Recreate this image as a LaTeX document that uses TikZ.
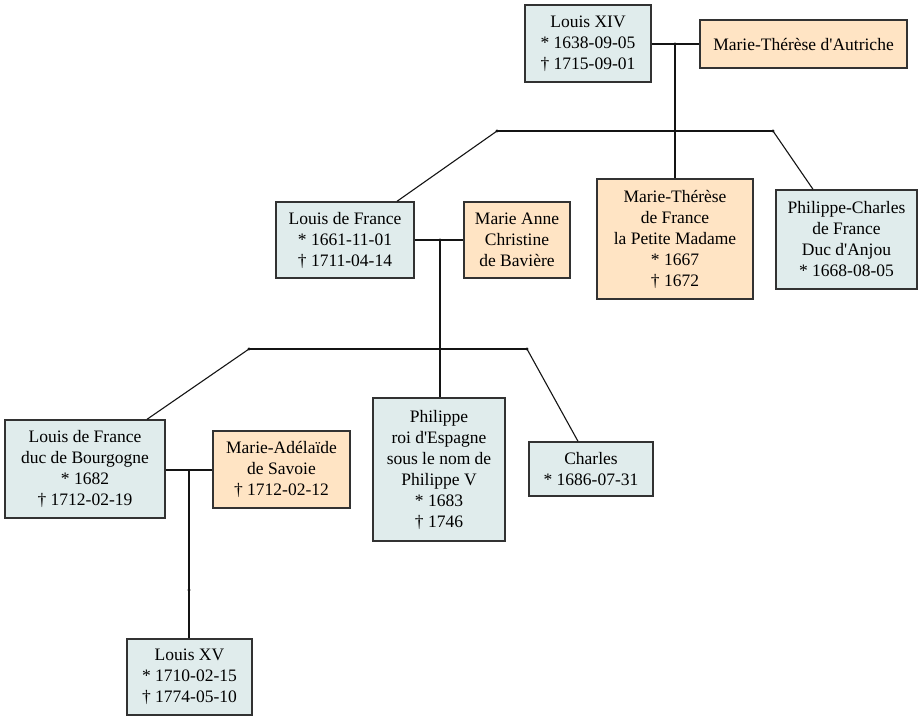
\documentclass[tikz,border=0pt]{standalone}
\usepackage{fontspec}
\setmainfont{Liberation Serif}
\definecolor{maleFill}{RGB}{224,236,236}
\definecolor{femaleFill}{RGB}{255,228,196}
\definecolor{boxLine}{RGB}{50,50,50}
\definecolor{linkCol}{RGB}{20,20,20}
\newcommand{\apos}{\textquotesingle}
\begin{document}
\begin{tikzpicture}[x=1pt,y=-1pt,
  person/.style={draw=boxLine, line width=1.4pt, align=center, inner sep=0pt,
                 font=\fontsize{17.5}{21}\selectfont},
  male/.style={person, fill=maleFill},
  female/.style={person, fill=femaleFill},
  link/.style={draw=linkCol, line width=1.1pt},
  junction/.style={circle, fill=linkCol, inner sep=0pt, minimum size=3.2pt}]

\fill[white] (0,0) rectangle (924,721);
\useasboundingbox (0,0) rectangle (924,721);

% generation 1
\node[male, minimum width=126pt, minimum height=77pt] (louis14) at (588,43.5)
  {Louis XIV\\* 1638-09-05\\† 1715-09-01};
\node[female, minimum width=207pt, minimum height=48pt] (mtAutriche) at (803.5,44)
  {Marie-Thérèse d\apos Autriche};

% generation 2
\node[male, minimum width=138pt, minimum height=76pt] (louisFr) at (345,240)
  {Louis de France\\* 1661-11-01\\† 1711-04-14};
\node[female, minimum width=106pt, minimum height=76pt] (marieAnne) at (517,240)
  {Marie Anne\\Christine\\de Bavière};
\node[female, minimum width=156pt, minimum height=120pt] (mtFrance) at (675,239)
  {Marie-Thérèse\\de France\\la Petite Madame\\* 1667\\† 1672};
\node[male, minimum width=141pt, minimum height=99pt] (philCharles) at (846.5,239.5)
  {Philippe-Charles\\de France\\Duc d\apos Anjou\\* 1668-08-05};

% generation 3
\node[male, minimum width=160pt, minimum height=98pt] (bourgogne) at (85,469)
  {Louis de France\\duc de Bourgogne\\* 1682\\† 1712-02-19};
\node[female, minimum width=137pt, minimum height=77pt] (mAdelaide) at (281.5,469.5)
  {Marie-Adélaïde\\de Savoie\\† 1712-02-12};
\node[male, minimum width=132pt, minimum height=143pt] (philippe) at (439,469.5)
  {Philippe\\roi d\apos Espagne\\sous le nom de\\Philippe V\\* 1683\\† 1746};
\node[male, minimum width=124pt, minimum height=54pt] (charles) at (591,469)
  {Charles\\* 1686-07-31};

% generation 4
\node[male, minimum width=125pt, minimum height=76pt] (louis15) at (189.5,677)
  {Louis XV\\* 1710-02-15\\† 1774-05-10};

% junction points
\coordinate (m1) at (675,44);
\coordinate (b1L) at (497,131);
\coordinate (b1M) at (675,131);
\coordinate (b1R) at (773,131);
\coordinate (m2) at (440,240);
\coordinate (b2L) at (249,349);
\coordinate (b2M) at (440,349);
\coordinate (b2R) at (527,349);
\coordinate (m3) at (189,470);
\coordinate (d3) at (189,590);

% Louis XIV family
\draw[link] (louis14.east |- m1) -- (mtAutriche.west |- m1);
\draw[link] (m1) -- (b1M) -- (mtFrance.north);
\draw[link] (b1L) -- (b1R);
\draw[link] (b1L) -- ([xshift=52pt]louisFr.north);
\draw[link] (b1R) -- ([xshift=-33.5pt]philCharles.north);

% Louis de France family
\draw[link] (louisFr.east |- m2) -- (marieAnne.west |- m2);
\draw[link] (m2) -- (b2M) -- (b2M |- philippe.north);
\draw[link] (b2L) -- (b2R);
\draw[link] (b2L) -- ([xshift=62pt]bourgogne.north);
\draw[link] (b2R) -- ([xshift=-13pt]charles.north);

% duc de Bourgogne family
\draw[link] (bourgogne.east |- m3) -- (mAdelaide.west |- m3);
\draw[link] (m3) -- (d3) -- (d3 |- louis15.north);

% junction dots
\foreach \p in {m1,b1L,b1M,b1R,m2,b2L,b2M,b2R,d3}
  \node[junction] at (\p) {};
\end{tikzpicture}
\end{document}
